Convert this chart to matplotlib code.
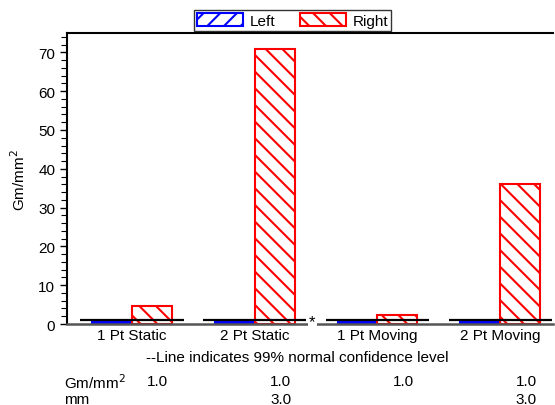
import numpy as np
import matplotlib.pyplot as plt
from matplotlib.transforms import blended_transform_factory

plt.rcParams['font.family'] = ['Liberation Sans', 'DejaVu Sans']
plt.rcParams['hatch.linewidth'] = 1.5

# Data
categories = ['1 Pt Static', '2 Pt Static', '1 Pt Moving', '2 Pt Moving']
left = [0.8, 0.8, 0.8, 0.8]
right = [4.6, 71.0, 2.4, 36.0]
conf_level = [1.0, 1.0, 1.0, 1.0]
table_mm = ['', '3.0', '', '3.0']

x = np.arange(len(categories))
w = 0.325

fig = plt.figure(figsize=(5.55, 4.06), dpi=100)
ax = fig.add_axes([0.1207, 0.1995, 0.8757, 0.7168])

bl = ax.bar(x - w/2, left, w, facecolor='none', edgecolor='blue',
            hatch='//', linewidth=1.5, label='Left', zorder=2)
br = ax.bar(x + w/2, right, w, facecolor='none', edgecolor='red',
            hatch='\\\\', linewidth=1.5, label='Right', zorder=2)
# tiny bars look solid
ax.bar(x - w/2, left, w, color='blue', linewidth=0, zorder=1)

# 99% confidence level lines
ax.hlines(conf_level, x - 0.42, x + 0.42, colors='black', lw=1.6, zorder=3)

ax.set_xlim(-0.53, 3.43)
ax.set_ylim(0, 75)
ax.set_xticks(x)
ax.set_xticklabels(categories, fontsize=11)
ax.set_yticks(np.arange(0, 71, 10))
ax.set_yticks(np.arange(0, 75, 2), minor=True)
ax.tick_params(axis='y', labelsize=11, length=5, width=1)
ax.tick_params(axis='y', which='minor', length=4, width=0.8)
ax.tick_params(axis='x', length=0, pad=3)
ax.set_ylabel('Gm/mm$^2$', fontsize=11, labelpad=7)

ax.spines['right'].set_visible(False)
for s in ['left', 'top']:
    ax.spines[s].set_linewidth(1.5)
ax.spines['bottom'].set_linewidth(1.8)
ax.spines['bottom'].set_color('#555555')

ax.text(1.47, 0.5, '*', ha='center', va='center', fontsize=12,
        bbox=dict(facecolor='white', edgecolor='none', pad=1),
        zorder=5, clip_on=False)

leg = ax.legend(loc='center', bbox_to_anchor=(0.527, 0.947),
                bbox_transform=fig.transFigure, ncol=2, fontsize=11,
                frameon=True, fancybox=False, edgecolor='black',
                handlelength=3.0, handleheight=0.9, columnspacing=1.6,
                borderpad=0.2, borderaxespad=0, handletextpad=0.45)
leg.get_frame().set_linewidth(1.0)

fig.text(0.535, 0.118, '--Line indicates 99% normal confidence level',
         ha='center', va='center', fontsize=11)

# small table under the chart
tr = blended_transform_factory(ax.transData, fig.transFigure)
y_row1, y_row2 = 0.058, 0.016
fig.text(0.115, y_row1, 'Gm/mm$^2$', ha='left', va='center', fontsize=11)
fig.text(0.115, y_row2, 'mm', ha='left', va='center', fontsize=11)
for xi, c, m in zip(x, conf_level, table_mm):
    ax.text(xi + 0.21, y_row1, '%.1f' % c, transform=tr, ha='center',
            va='center', fontsize=11)
    if m:
        ax.text(xi + 0.21, y_row2, m, transform=tr, ha='center',
                va='center', fontsize=11)

fig.savefig('out.png', dpi=100)
